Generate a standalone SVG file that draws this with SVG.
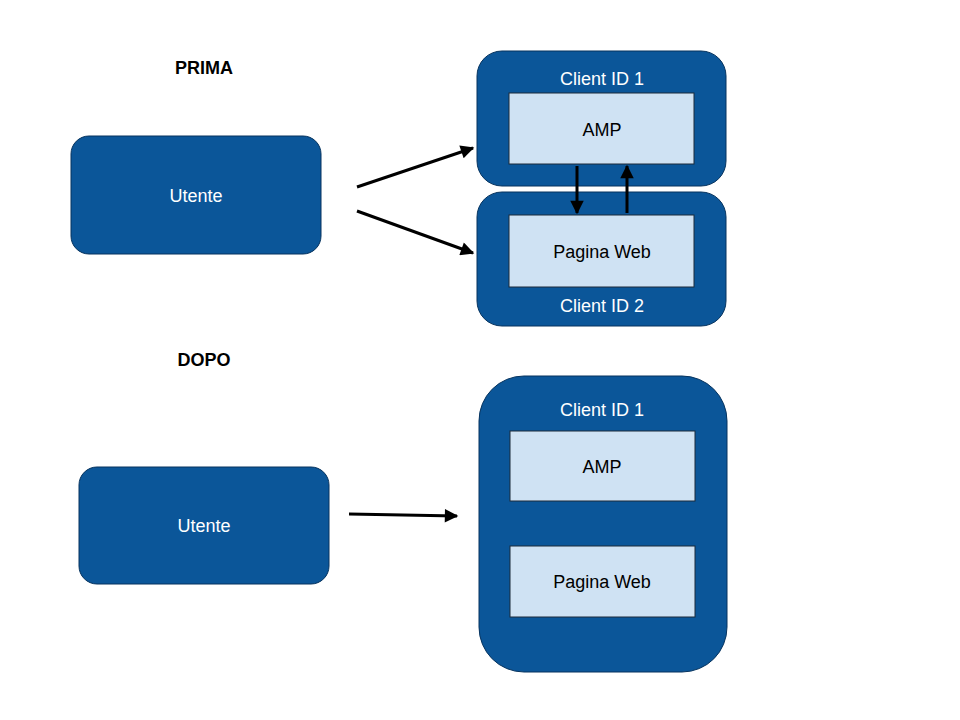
<svg xmlns="http://www.w3.org/2000/svg" width="960" height="720" viewBox="0 0 960 720">
<style>
.outer{fill:#0b5699;stroke:#06335e;stroke-width:1}
.inner{fill:#cfe2f3;stroke:#1c2b3a;stroke-width:1}
.wt{font-family:"Liberation Sans",Arial,sans-serif;font-size:18px;fill:#ffffff;text-anchor:middle;dominant-baseline:central}
.bt{font-family:"Liberation Sans",Arial,sans-serif;font-size:18px;fill:#000000;text-anchor:middle;dominant-baseline:central}
.title{font-family:"Liberation Sans",Arial,sans-serif;font-size:18px;font-weight:bold;fill:#000000;text-anchor:middle;dominant-baseline:central}
.conn{stroke:#000000;stroke-width:3;fill:none;marker-end:url(#ah)}
</style>
<defs>
<marker id="ah" viewBox="0 0 10 10" refX="9" refY="5" markerWidth="5.3" markerHeight="4.5" orient="auto" markerUnits="strokeWidth">
<path d="M0,0 L10,5 L0,10 z" fill="#000000"/>
</marker>
</defs>
<rect width="960" height="720" fill="#ffffff"/>
<text class="title" x="204" y="68">PRIMA</text>
<text class="title" x="204" y="360">DOPO</text>
<g id="utente1">
<rect class="outer" x="71" y="136" width="250" height="118" rx="18"/>
<text class="wt" x="196" y="196">Utente</text>
</g>
<g id="client1">
<rect class="outer" x="477" y="51" width="249" height="135" rx="25"/>
<text class="wt" x="602" y="79">Client ID 1</text>
</g>
<g id="amp1">
<rect class="inner" x="509" y="93" width="185" height="71"/>
<text class="bt" x="602" y="130">AMP</text>
</g>
<g id="client2">
<rect class="outer" x="477" y="192" width="249" height="134" rx="25"/>
<text class="wt" x="602" y="306">Client ID 2</text>
</g>
<g id="web1">
<rect class="inner" x="509" y="215" width="185" height="72"/>
<text class="bt" x="602" y="252">Pagina Web</text>
</g>
<g id="utente2">
<rect class="outer" x="79" y="467" width="250" height="117" rx="18"/>
<text class="wt" x="204" y="526">Utente</text>
</g>
<g id="client3">
<rect class="outer" x="479" y="376" width="248" height="296" rx="45"/>
<text class="wt" x="602" y="410">Client ID 1</text>
</g>
<g id="amp2">
<rect class="inner" x="510" y="431" width="185" height="70"/>
<text class="bt" x="602" y="467">AMP</text>
</g>
<g id="web2">
<rect class="inner" x="510" y="546" width="185" height="71"/>
<text class="bt" x="602" y="582">Pagina Web</text>
</g>
<g id="connectors">
<line class="conn" x1="357" y1="187" x2="473" y2="148"/>
<line class="conn" x1="357" y1="211" x2="473" y2="253"/>
<line class="conn" x1="577" y1="166" x2="577" y2="213"/>
<line class="conn" x1="627" y1="213" x2="627" y2="166"/>
<line class="conn" x1="349" y1="514" x2="457" y2="516"/>
</g>
</svg>
